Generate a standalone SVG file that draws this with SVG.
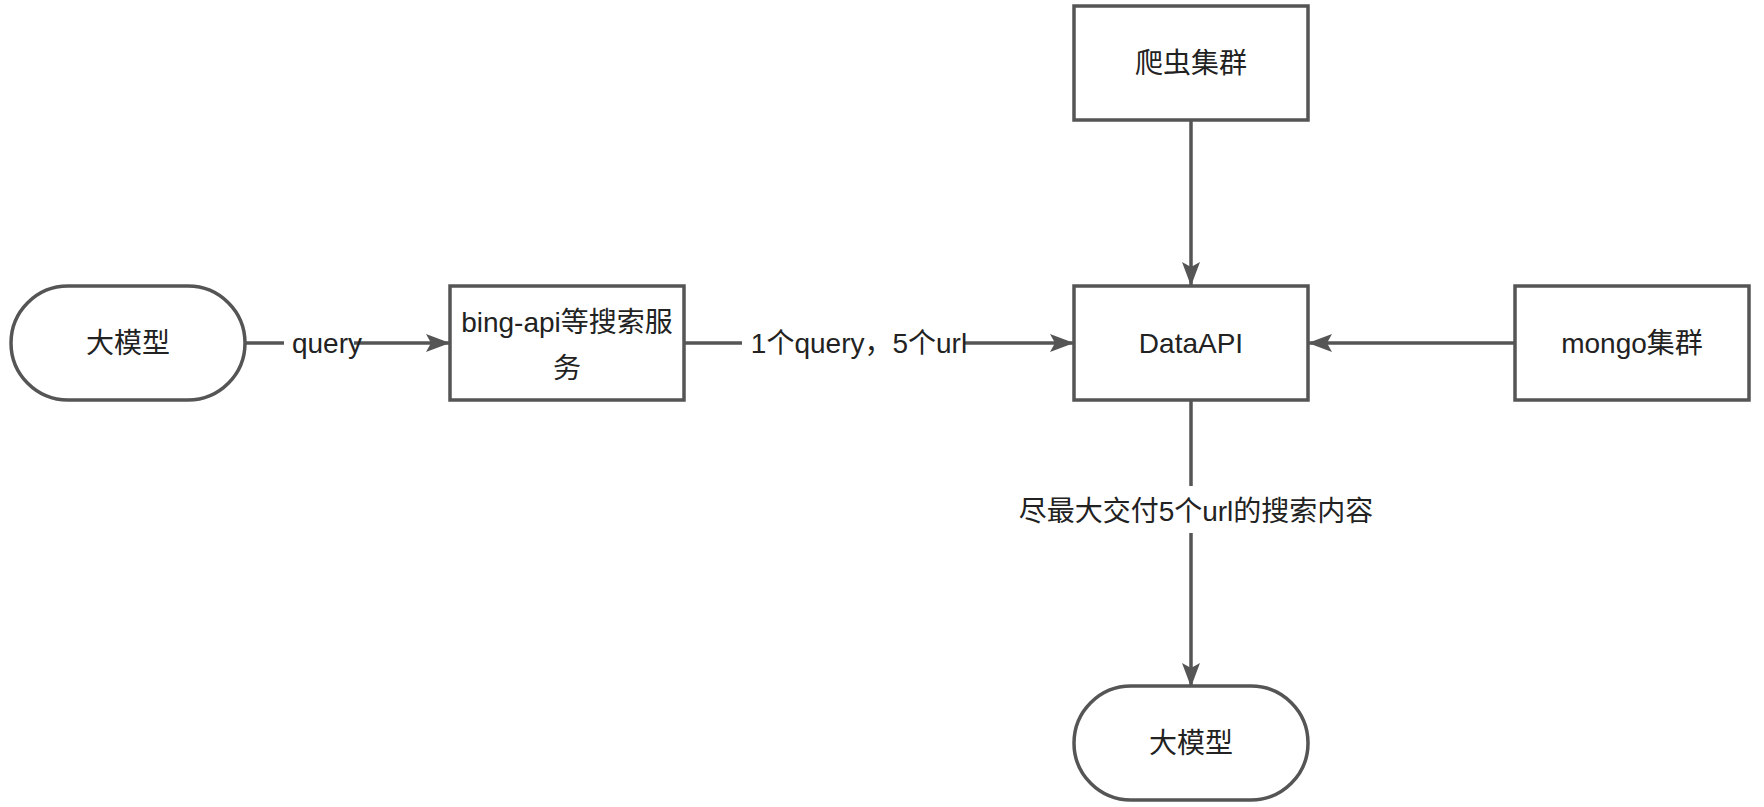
<svg xmlns="http://www.w3.org/2000/svg" width="1764" height="807" viewBox="0 0 1764 807">
  <style>
    .shape { fill: #ffffff; stroke: #555555; stroke-width: 3.5; }
    .edge { fill: none; stroke: #555555; stroke-width: 3.5; }
    .label { font-family: "Liberation Sans", "Noto Sans CJK SC", sans-serif; fill: #222222; text-anchor: middle; }
    .node-text { font-size: 28px; }
    .edge-text { font-size: 28px; }
    .mask { fill: #ffffff; stroke: none; }
  </style>
  <defs>
    <marker id="arrow" viewBox="0 0 24 18" refX="23" refY="9" markerWidth="24" markerHeight="18" markerUnits="userSpaceOnUse" orient="auto">
      <path d="M0,0 L24,9 L0,18 L5,9 Z" fill="#555555"/>
    </marker>
  </defs>

  <rect width="1764" height="807" fill="#ffffff"/>

  <!-- connectors -->
  <g id="connectors">
    <!-- 大模型 -> bing-api -->
    <line class="edge" x1="246" y1="343" x2="449" y2="343" marker-end="url(#arrow)"/>
    <rect class="mask" x="284" y="328" width="70" height="30"/>
    <!-- bing-api -> DataAPI -->
    <line class="edge" x1="684" y1="343" x2="1073" y2="343" marker-end="url(#arrow)"/>
    <rect class="mask" x="742" y="328" width="222" height="30"/>
    <!-- 爬虫集群 -> DataAPI -->
    <line class="edge" x1="1191" y1="120" x2="1191" y2="285" marker-end="url(#arrow)"/>
    <!-- mongo集群 -> DataAPI -->
    <line class="edge" x1="1515" y1="343" x2="1309" y2="343" marker-end="url(#arrow)"/>
    <!-- DataAPI -> 大模型 -->
    <line class="edge" x1="1191" y1="400" x2="1191" y2="686" marker-end="url(#arrow)"/>
    <rect class="mask" x="1018" y="486" width="356" height="47"/>

    <text class="label edge-text" x="327" y="353">query</text>
    <text class="label edge-text" x="859" y="353">1个query，5个url</text>
    <text class="label edge-text" x="1196" y="521">尽最大交付5个url的搜索内容</text>
  </g>

  <!-- nodes -->
  <g id="llm-input">
    <rect class="shape" x="11" y="286" width="234" height="114" rx="57" ry="57"/>
    <text class="label node-text" x="128" y="353">大模型</text>
  </g>

  <g id="search-service">
    <rect class="shape" x="450" y="286" width="234" height="114"/>
    <text class="label node-text" x="567" y="332">bing-api等搜索服</text>
    <text class="label node-text" x="567" y="378">务</text>
  </g>

  <g id="crawler-cluster">
    <rect class="shape" x="1074" y="6" width="234" height="114"/>
    <text class="label node-text" x="1191" y="73">爬虫集群</text>
  </g>

  <g id="data-api">
    <rect class="shape" x="1074" y="286" width="234" height="114"/>
    <text class="label node-text" x="1191" y="353">DataAPI</text>
  </g>

  <g id="mongo-cluster">
    <rect class="shape" x="1515" y="286" width="234" height="114"/>
    <text class="label node-text" x="1632" y="353">mongo集群</text>
  </g>

  <g id="llm-output">
    <rect class="shape" x="1074" y="686" width="234" height="114" rx="57" ry="57"/>
    <text class="label node-text" x="1191" y="753">大模型</text>
  </g>
</svg>
